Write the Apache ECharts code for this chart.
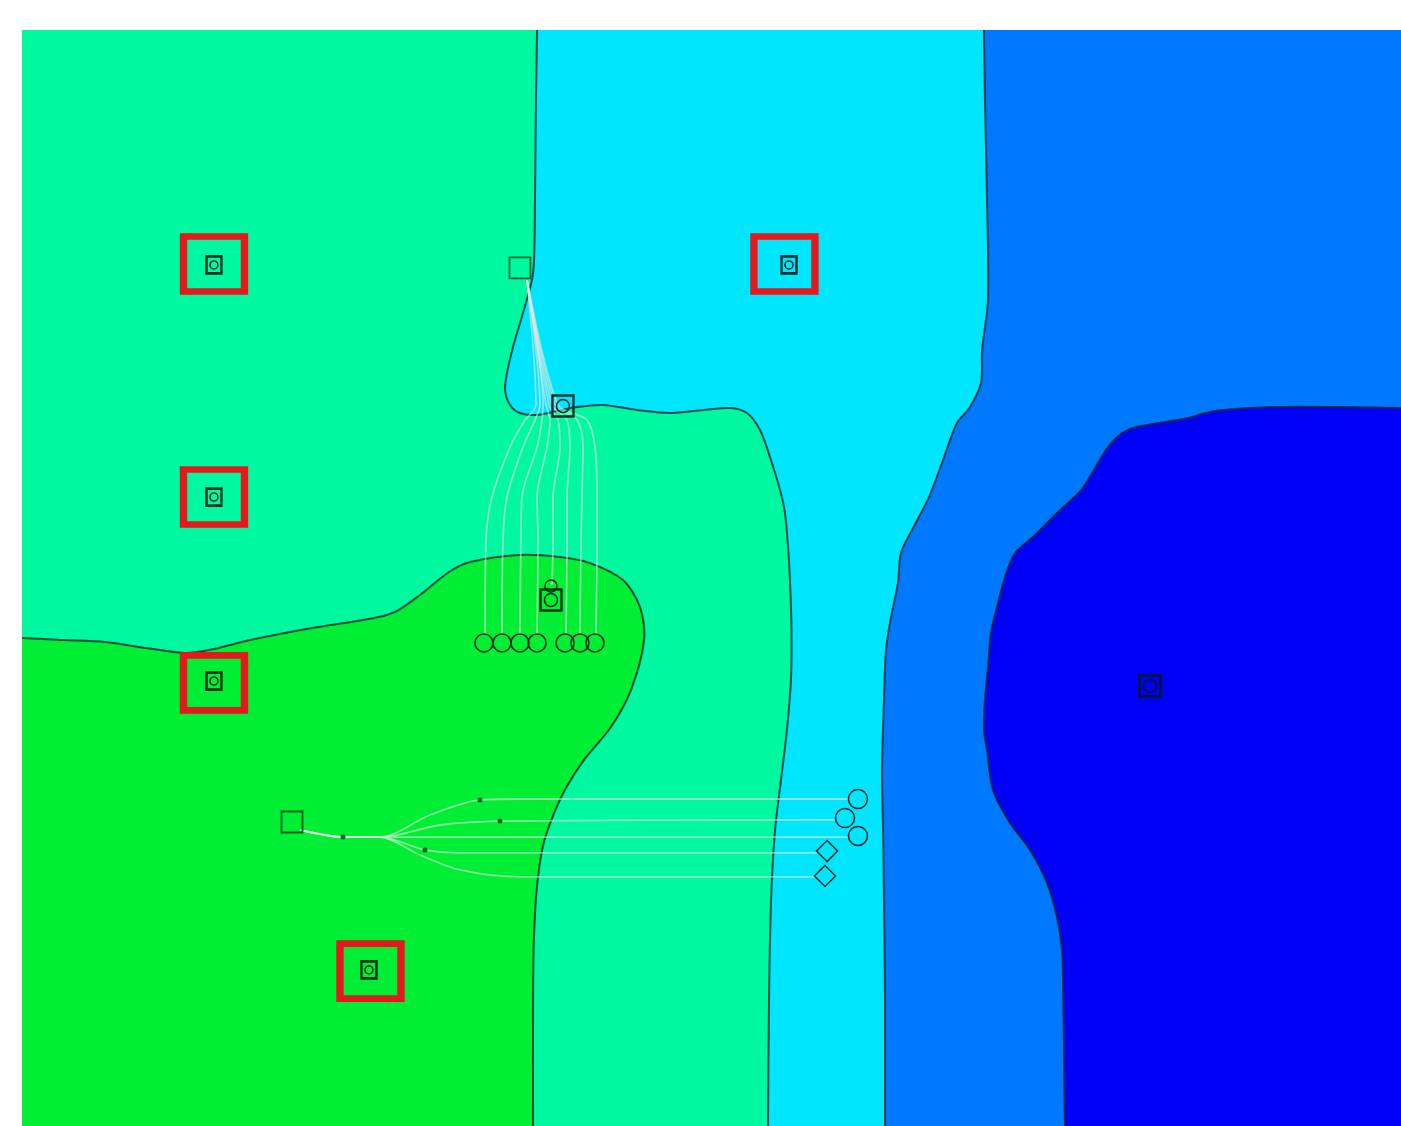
<!DOCTYPE html>
<html>
<head>
<meta charset="utf-8">
<script src="https://cdn.jsdelivr.net/npm/echarts@6/dist/echarts.min.js"></script>
<style>
  html, body { margin: 0; padding: 0; background: #ffffff; }
  #chart { width: 1401px; height: 1126px; }
</style>
</head>
<body>
<div id="chart"></div>
<script>
// Arena extent in field units
const X_MAX = 100;
const Y_MAX = 80;

// Zone colours
const COLOR_MID = '#00F9A0';
const COLOR_CYAN = '#00E6FF';
const COLOR_BLUE = '#0078FF';
const COLOR_DEEP = '#0000F8';
const COLOR_LOW = '#00EE33';

// Zone boundaries (field units), each run continues a little past the arena edge
const boundaryCyan = [[37.35,83],[37.35,81],[37.35,80],[37.27,74.89],[37.20,67.59],[37.13,63.21],[36.98,61.75],[36.33,59.34],[35.61,56.86],[35.17,54.96],[35.03,53.72],[35.39,52.63],[36.11,52.04],[37.35,51.90],[38.51,52.12],[40.25,52.48],[42.13,52.63],[44.60,52.26],[46.99,52.04],[49.38,52.26],[51.34,52.41],[52.57,52.04],[53.52,50.80],[54.24,48.83],[54.97,46.42],[55.33,44.74],[55.55,42.26],[55.69,39.85],[55.80,36.20],[55.76,32.55],[55.47,28.91],[55.04,25.26],[54.61,21.61],[54.32,16.50],[54.17,9.20],[54.10,0],[54.10,-1],[54.10,-3]];

const boundaryBlue = [[69.76,83],[69.76,81],[69.76,80],[69.83,74.89],[69.98,67.59],[70.05,60.29],[69.62,56.64],[69.54,54.23],[68.75,52.48],[67.80,51.31],[66.79,48.61],[65.77,45.91],[64.54,43.50],[63.74,41.82],[63.52,39.64],[63.02,37.15],[62.65,34.74],[62.51,31.09],[62.36,25.99],[62.44,21.61],[62.51,16.50],[62.58,9.20],[62.58,0],[62.58,-1],[62.58,-3]];

const boundaryDeep = [[103,52.41],[101,52.41],[100,52.41],[95.79,52.48],[90.79,52.48],[87.02,52.26],[85.79,52.04],[84.55,51.68],[80.78,51.02],[79.77,50.58],[78.75,49.56],[78.03,48.39],[76.80,46.42],[75.27,44.96],[73.31,42.99],[72.01,41.82],[71.28,40.07],[70.78,38.18],[70.27,35.99],[70.05,33.50],[69.83,31.09],[69.76,28.91],[69.98,27.45],[70.41,24.53],[71.65,22.12],[73.10,20.15],[74.33,17.74],[75.05,15.26],[75.42,12.85],[75.49,10.44],[75.56,5.55],[75.63,0],[75.63,-1],[75.63,-3]];

const boundaryLow = [[-3,35.62],[-1,35.62],[0,35.62],[2.97,35.47],[6.02,35.33],[8.99,34.89],[11.75,34.53],[13.56,34.74],[16.53,35.47],[21.03,36.35],[25.53,37.08],[27.05,37.52],[28.86,38.76],[30.96,40.44],[32.49,41.17],[36.04,41.68],[39.01,41.53],[41.19,41.09],[43.58,39.85],[44.82,37.88],[45.11,35.47],[44.16,31.82],[42.71,29.12],[40.76,26.72],[39.45,24.67],[38.51,22.63],[37.78,20.44],[37.35,17.52],[37.13,13.87],[37.06,9.20],[37.06,0],[37.06,-1],[37.06,-3]];

// Agent trajectories: descent from the upper start square into the low zone
const descentPaths = [
  [[36.62,61.75],[37.27,52.63],[36.48,51.53],[35.39,49.56],[34.08,45.91],[33.65,42.77],[33.58,35.91]],
  [[36.62,61.75],[37.56,52.63],[37.20,51.53],[36.33,49.56],[35.17,45.91],[34.88,42.77],[34.81,35.91]],
  [[36.62,61.75],[37.78,52.63],[37.71,51.53],[37.35,49.56],[36.26,45.91],[36.18,42.77],[36.11,35.91]],
  [[36.62,61.75],[38.00,52.63],[38.29,51.53],[38.07,49.56],[37.35,45.91],[37.42,42.77],[37.35,35.91]],
  [[36.62,61.75],[38.22,52.63],[38.87,51.53],[39.01,49.56],[38.51,45.91],[38.51,42.77],[38.43,39.49]],
  [[36.62,61.75],[38.43,52.63],[39.52,51.53],[39.74,49.56],[39.52,45.91],[39.52,42.77],[39.45,35.91]],
  [[36.62,61.75],[38.65,52.63],[40.25,51.53],[40.68,49.56],[40.61,45.91],[40.54,42.77],[40.46,35.91]],
  [[36.62,61.75],[38.87,52.63],[40.97,51.53],[41.55,49.56],[41.70,45.91],[41.70,42.77],[41.62,35.91]]
];

// Agent trajectories: sweep from the lower start square toward the cyan zone
const sweepPaths = [
  [[20.16,21.61],[23.28,21.09],[25.96,21.09],[29.59,22.70],[33.21,23.80],[36.11,23.87],[59.90,23.87]],
  [[20.16,21.61],[23.28,21.09],[25.96,21.09],[30.31,21.97],[34.66,22.26],[59.03,22.34]],
  [[20.16,21.61],[23.28,21.09],[25.96,21.09],[59.90,21.09]],
  [[20.16,21.61],[23.28,21.09],[25.96,21.09],[29.22,20.15],[31.76,19.93],[57.65,19.93]],
  [[20.16,21.61],[23.28,21.09],[25.96,21.09],[28.86,19.78],[31.76,18.69],[36.11,18.18],[57.51,18.18]]
];

// Branching waypoints along the sweep
const sweepWaypoints = [[33.21,23.80],[34.66,22.26],[29.22,20.15],[23.28,21.09]];

// Highlighted targets (red frame) and their markers
const targetFrames = [[13.92,62.92],[55.29,62.92],[13.92,45.91],[13.92,32.34],[25.27,11.31]];
const targetMarkers = [[13.92,62.85],[55.62,62.85],[13.92,45.91],[13.92,32.48],[25.16,11.39]];

// Other beacons (square with ring) and plain start squares
const beacons = [[39.23,52.55],[38.36,38.39],[81.80,32.12]];
const beaconCap = [[38.36,39.42]];
const startSquares = [[36.11,62.63],[19.58,22.19]];

// Final agent positions
const descentEnds = [[33.50,35.26],[34.81,35.26],[36.11,35.26],[37.35,35.26],[39.38,35.26],[40.46,35.26],[41.55,35.26]];
const sweepEndsRound = [[60.62,23.87],[59.68,22.48],[60.62,21.17]];
const sweepEndsDiamond = [[58.38,20.07],[58.23,18.25]];

const INK = 'rgba(0,25,15,0.88)';
const TRAIL = 'rgba(225,232,225,0.6)';
const FRAME = '#E3191B';

const FAR = [[103,-3],[103,83]];
const regions = [
  { pts: [[-3,-3],[103,-3],[103,83],[-3,83]], color: COLOR_MID },
  { pts: boundaryCyan.concat(FAR), color: COLOR_CYAN },
  { pts: boundaryBlue.concat(FAR), color: COLOR_BLUE },
  { pts: boundaryDeep.concat([[103,-3]]), color: COLOR_DEEP },
  { pts: boundaryLow.concat([[-3,-3]]), color: COLOR_LOW }
];
const contours = [boundaryCyan, boundaryBlue, boundaryDeep, boundaryLow];

const SMOOTH = 0.3;

const chart = echarts.init(document.getElementById('chart'), null, { renderer: 'canvas' });

const series = [
  {
    type: 'custom',
    name: 'zones',
    clip: true,
    silent: true,
    z: 1,
    data: regions.map((r, i) => [i]),
    renderItem: function (params, api) {
      const r = regions[params.dataIndex];
      return {
        type: 'polygon',
        shape: { points: r.pts.map(p => api.coord(p)), smooth: SMOOTH },
        style: { fill: r.color, stroke: null }
      };
    }
  },
  {
    type: 'custom',
    name: 'contours',
    clip: true,
    silent: true,
    z: 2,
    data: contours.map((c, i) => [i]),
    renderItem: function (params, api) {
      const c = contours[params.dataIndex];
      return {
        type: 'polyline',
        shape: { points: c.map(p => api.coord(p)), smooth: SMOOTH },
        style: { fill: null, stroke: 'rgba(0,35,45,0.8)', lineWidth: 2 }
      };
    }
  }
];

descentPaths.concat(sweepPaths).forEach(function (path) {
  series.push({
    type: 'line',
    data: path,
    showSymbol: false,
    smooth: 0.3,
    silent: true,
    z: 3,
    lineStyle: { color: TRAIL, width: 1.8 }
  });
});

function marks(data, symbol, size, style, z) {
  return {
    type: 'scatter', data: data, symbol: symbol, symbolSize: size,
    silent: true, z: z,
    itemStyle: Object.assign({ color: 'rgba(0,0,0,0)', opacity: 1 }, style)
  };
}

series.push(
  marks(sweepWaypoints, 'circle', 5, { color: 'rgba(0,60,20,0.8)' }, 4),
  marks(targetFrames, 'rect', [61, 55], { borderColor: FRAME, borderWidth: 7 }, 5),
  marks(targetMarkers, 'rect', [15, 17], { borderColor: INK, borderWidth: 2.6 }, 6),
  marks(targetMarkers, 'circle', 8, { borderColor: INK, borderWidth: 1.6 }, 6),
  marks(beacons, 'rect', 21, { borderColor: INK, borderWidth: 2.4 }, 6),
  marks(beacons, 'circle', 13, { borderColor: INK, borderWidth: 1.6 }, 6),
  marks(beaconCap, 'circle', 12, { borderColor: INK, borderWidth: 1.4 }, 6),
  marks(startSquares, 'rect', 21, { borderColor: 'rgba(0,70,30,0.85)', borderWidth: 1.8 }, 6),
  marks(descentEnds, 'circle', 18, { borderColor: INK, borderWidth: 1.6 }, 6),
  marks(sweepEndsRound, 'circle', 19, { borderColor: INK, borderWidth: 1.6 }, 6),
  marks(sweepEndsDiamond, 'diamond', 21, { borderColor: INK, borderWidth: 1.6 }, 6)
);

chart.setOption({
  animation: false,
  backgroundColor: '#ffffff',
  grid: { left: 22, top: 30, right: 0, bottom: 0, containLabel: false },
  xAxis: { type: 'value', min: 0, max: X_MAX, show: false },
  yAxis: { type: 'value', min: 0, max: Y_MAX, show: false },
  tooltip: { show: false },
  series: series
});
</script>
</body>
</html>
